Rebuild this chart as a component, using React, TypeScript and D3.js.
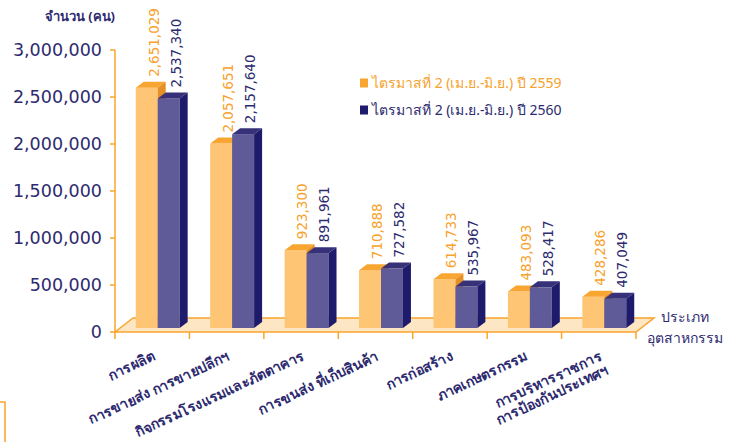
import * as React from 'react';
import * as d3 from 'd3';

// chart data
const categories = [
    ['การผลิต'],
    ['การขายส่ง การขายปลีกฯ'],
    ['กิจกรรมโรงแรมและภัตตาคาร'],
    ['การขนส่ง ที่เก็บสินค้า'],
    ['การก่อสร้าง'],
    ['ภาคเกษตรกรรม'],
    ['การบริหารราชการ', 'การป้องกันประเทศฯ'],
];
const values2559 = [2651029, 2057651, 923300, 710888, 614733, 483093, 428286];
const values2560 = [2537340, 2157640, 891961, 727582, 535967, 528417, 407049];
const seriesNames = ['ไตรมาสที่ 2 (เม.ย.-มิ.ย.) ปี 2559', 'ไตรมาสที่ 2 (เม.ย.-มิ.ย.) ปี 2560'];
const yTicks = [0, 500000, 1000000, 1500000, 2000000, 2500000, 3000000];
const yTitle = 'จำนวน (คน)';
const xTitle = ['ประเภท', 'อุตสาหกรรม'];

const width = 737;
const height = 442;
const plot = { left: 115, right: 636, top: 50, bottom: 332 };
const floorDepth = { dx: 18, dy: -14 };
const barDepth = { dx: 8, dy: -6 };
const barBase = 328;
const barShift = 5.5;

const orange = { front: '#FDC574', top: '#F8A631', side: '#E58F24', text: '#F7A22C' };
const navy = { front: '#5F5B98', top: '#363179', side: '#1F1B6C', text: '#2D2A6F' };
const axisColor = '#F9A42C';
const thaiFont = '"Noto Sans", "DejaVu Sans", sans-serif';
const numFont = '"DejaVu Sans", sans-serif';

class BarChart3D extends React.Component<object, object> {
    private svgElement: SVGSVGElement | null = null;

    render() {
        return <svg
            ref={node => { this.svgElement = node; }}
            width={width}
            height={height}
            style={{ position: 'absolute', left: 0, top: 0 }}>
        </svg>;
    }

    componentDidMount() {
        this.draw();
    }

    private draw() {
        const svg = d3.select(this.svgElement);
        svg.selectAll('*').remove();

        const yScale = d3.scaleLinear().domain([0, 3000000]).range([plot.bottom, plot.top]);
        // bars sit half way back on the floor, so their tops read a little lower
        const barY = yScale.copy().range([plot.bottom + 5, plot.top + 5]);

        const xScale = d3.scaleBand<number>()
            .domain(d3.range(categories.length))
            .range([plot.left, plot.right])
            .paddingInner(0.41)
            .paddingOuter(0.205);
        const inner = d3.scaleBand<number>().domain([0, 1]).range([0, xScale.bandwidth()]);
        const step = xScale.step();

        // floor
        const f = floorDepth;
        svg.append('path')
            .attr('d', `M${plot.left},${plot.bottom} L${plot.left + f.dx},${plot.bottom + f.dy} L${plot.right + f.dx},${plot.bottom + f.dy} L${plot.right},${plot.bottom} Z`)
            .attr('fill', '#FDE6C3')
            .attr('stroke', axisColor)
            .attr('stroke-width', 1.5);

        // y axis
        const yAxis = svg.append('g');
        yAxis.append('line')
            .attr('x1', plot.left).attr('x2', plot.left)
            .attr('y1', plot.top).attr('y2', plot.bottom)
            .attr('stroke', axisColor).attr('stroke-width', 1.5);
        yAxis.selectAll('line.tick')
            .data(yTicks)
            .enter()
            .append('line')
            .classed('tick', true)
            .attr('x1', plot.left - 5).attr('x2', plot.left)
            .attr('y1', d => yScale(d)).attr('y2', d => yScale(d))
            .attr('stroke', axisColor).attr('stroke-width', 1.5);
        yAxis.selectAll('text')
            .data(yTicks)
            .enter()
            .append('text')
            .attr('x', plot.left - 13)
            .attr('y', d => yScale(d))
            .attr('dy', '0.36em')
            .attr('text-anchor', 'end')
            .style('font-family', numFont)
            .style('font-size', '17.5px')
            .style('fill', navy.text)
            .text(d => d3.format(',')(d));

        // x ticks at category boundaries
        svg.append('g').selectAll('line')
            .data(d3.range(categories.length + 1))
            .enter()
            .append('line')
            .attr('x1', d => plot.left + d * step).attr('x2', d => plot.left + d * step)
            .attr('y1', plot.bottom).attr('y2', plot.bottom + 7)
            .attr('stroke', axisColor).attr('stroke-width', 1.5);

        // bars
        const series = [
            { values: values2559, colors: orange },
            { values: values2560, colors: navy },
        ];
        const b = barDepth;
        const bw = inner.bandwidth();
        const barsGroup = svg.append('g');
        categories.forEach((_, i) => {
            series.forEach((s, j) => {
                const x = (xScale(i) || 0) + inner(j)! + barShift;
                const top = barY(s.values[i]);
                const g = barsGroup.append('g');
                g.append('rect')
                    .attr('x', x).attr('y', top)
                    .attr('width', bw).attr('height', barBase - top)
                    .attr('fill', s.colors.front);
                g.append('path')
                    .attr('d', `M${x},${top} L${x + b.dx},${top + b.dy} L${x + bw + b.dx},${top + b.dy} L${x + bw},${top} Z`)
                    .attr('fill', s.colors.top);
                g.append('path')
                    .attr('d', `M${x + bw},${top} L${x + bw + b.dx},${top + b.dy} L${x + bw + b.dx},${barBase + b.dy} L${x + bw},${barBase} Z`)
                    .attr('fill', s.colors.side);
                g.append('text')
                    .attr('transform', `translate(${x + bw / 2 + 7},${top - 11}) rotate(-90)`)
                    .attr('dy', '0.36em')
                    .style('font-family', numFont)
                    .style('font-size', '13.5px')
                    .style('fill', s.colors.text)
                    .text(d3.format(',')(s.values[i]));
            });
        });

        // category labels
        const labels = svg.append('g');
        categories.forEach((lines, i) => {
            const cx = (xScale(i) || 0) + xScale.bandwidth() / 2;
            const t = labels.append('text')
                .attr('transform', `translate(${cx + 2},${355}) rotate(-25)`)
                .attr('text-anchor', 'end')
                .style('font-family', thaiFont)
                .style('font-size', '14px')
                .style('font-weight', 'bold')
                .style('fill', navy.text);
            lines.forEach((line, k) => {
                t.append('tspan')
                    .attr('x', 0)
                    .attr('dy', k === 0 ? '0.35em' : '1.1em')
                    .text(line);
            });
        });

        // legend
        const legend = svg.append('g');
        seriesNames.forEach((name, j) => {
            const y = 83 + j * 27;
            const c = j === 0 ? orange : navy;
            legend.append('rect')
                .attr('x', 360).attr('y', y - 4.5)
                .attr('width', 8).attr('height', 9)
                .attr('fill', j === 0 ? orange.top : navy.side);
            legend.append('text')
                .attr('x', 372).attr('y', y)
                .attr('dy', '0.35em')
                .style('font-family', thaiFont)
                .style('font-size', '14px')
                .style('fill', c.text)
                .text(name);
        });

        // axis titles
        svg.append('text')
            .attr('x', plot.left).attr('y', 16)
            .attr('dy', '0.35em')
            .attr('text-anchor', 'end')
            .style('font-family', thaiFont)
            .style('font-size', '13px')
            .style('font-weight', 'bold')
            .style('fill', navy.text)
            .text(yTitle);
        xTitle.forEach((line, k) => {
            svg.append('text')
                .attr('x', 685).attr('y', 317 + k * 21)
                .attr('dy', '0.35em')
                .attr('text-anchor', 'middle')
                .style('font-family', thaiFont)
                .style('font-size', '14px')
                .style('fill', navy.text)
                .text(line);
        });

        // piece of a frame cut off at the bottom left
        svg.append('path')
            .attr('d', 'M0,402 L5,402 L5,442')
            .attr('fill', 'none')
            .attr('stroke', axisColor)
            .attr('stroke-width', 1.5);
    }
}

export default function App() {
    return <BarChart3D />;
}
